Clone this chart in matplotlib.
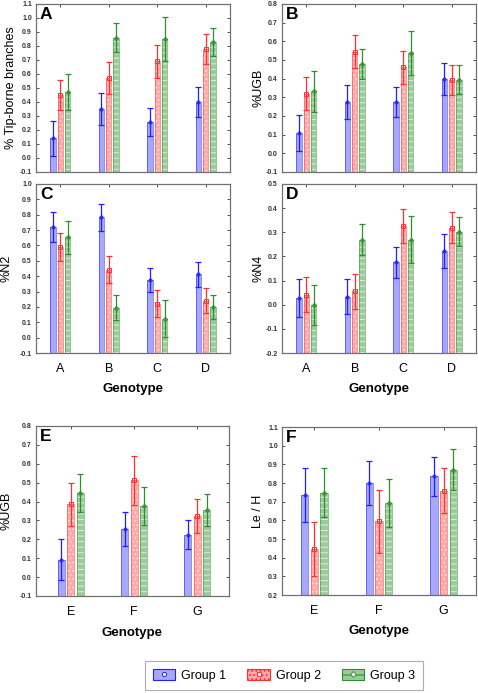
import matplotlib
matplotlib.use("Agg")
import matplotlib.pyplot as plt
import numpy as np
from matplotlib.patches import Patch
from matplotlib.lines import Line2D

plt.rcParams['font.family'] = ['Liberation Sans', 'DejaVu Sans']
plt.rcParams['hatch.linewidth'] = 0.8

# ---------------- data ----------------
genotypes_ad = ['A', 'B', 'C', 'D']
genotypes_eg = ['E', 'F', 'G']
groups = ['Group 1', 'Group 2', 'Group 3']

tip_g1 = [0.14, 0.35, 0.26, 0.40]
tip_g2 = [0.45, 0.57, 0.69, 0.78]
tip_g3 = [0.47, 0.86, 0.85, 0.83]
tip_se1 = [0.125, 0.115, 0.10, 0.105]
tip_se2 = [0.11, 0.115, 0.115, 0.105]
tip_se3 = [0.13, 0.105, 0.155, 0.10]

ugb_ad_g1 = [0.11, 0.275, 0.275, 0.40]
ugb_ad_g2 = [0.32, 0.545, 0.46, 0.393]
ugb_ad_g3 = [0.332, 0.48, 0.538, 0.395]
ugb_ad_se1 = [0.095, 0.09, 0.08, 0.085]
ugb_ad_se2 = [0.09, 0.09, 0.088, 0.08]
ugb_ad_se3 = [0.108, 0.08, 0.118, 0.078]

n2_g1 = [0.72, 0.783, 0.378, 0.411]
n2_g2 = [0.59, 0.443, 0.22, 0.241]
n2_g3 = [0.652, 0.196, 0.124, 0.202]
n2_se1 = [0.097, 0.09, 0.078, 0.084]
n2_se2 = [0.09, 0.088, 0.088, 0.08]
n2_se3 = [0.105, 0.08, 0.12, 0.078]

n4_g1 = [0.028, 0.033, 0.175, 0.222]
n4_g2 = [0.042, 0.056, 0.326, 0.319]
n4_g3 = [-0.001, 0.27, 0.27, 0.303]
n4_se1 = [0.077, 0.072, 0.063, 0.07]
n4_se2 = [0.073, 0.072, 0.072, 0.065]
n4_se3 = [0.084, 0.065, 0.096, 0.061]

ugb_eg_g1 = [0.093, 0.253, 0.225]
ugb_eg_g2 = [0.385, 0.512, 0.322]
ugb_eg_g3 = [0.447, 0.375, 0.357]
ugb_eg_se1 = [0.11, 0.09, 0.078]
ugb_eg_se2 = [0.112, 0.128, 0.09]
ugb_eg_se3 = [0.1, 0.1, 0.084]

leh_g1 = [0.737, 0.80, 0.835]
leh_g2 = [0.445, 0.595, 0.758]
leh_g3 = [0.748, 0.694, 0.872]
leh_se1 = [0.145, 0.118, 0.105]
leh_se2 = [0.145, 0.168, 0.12]
leh_se3 = [0.132, 0.13, 0.11]

# ---------------- style ----------------
edge_cols = ['#2020ff', '#ff3030', '#2a902a']
face_cols = ['#a8a8f8', '#ffa8a8', '#9cca9c']
hatches = [None, '....', '---']
hatch_cols = [None, '#ffdede', '#d4ead4']
markers = ['o', 's', 'D']

W, H = 478, 693
fig = plt.figure(figsize=(W / 100, H / 100), dpi=100)


def add_ax(x0, y0, x1, y1):
    return fig.add_axes([x0 / W, 1 - y1 / H, (x1 - x0) / W, (y1 - y0) / H])


def panel(ax, cats, means, ses, ylim, yticks, ylabel, letter, ylab_px, ax_left,
          show_x, xlim):
    x = np.arange(1, len(cats) + 1)
    offs = [-0.15, 0.0, 0.15]
    bw = 0.11
    base = ylim[0]
    for k in range(3):
        m = np.array(means[k])
        s = np.array(ses[k])
        xs = x + offs[k]
        ax.bar(xs, m - base, bottom=base, width=bw, color=face_cols[k],
               edgecolor=edge_cols[k], linewidth=0.0, zorder=2)
        if hatches[k]:
            ax.bar(xs, m - base, bottom=base, width=bw, facecolor='none',
                   edgecolor=hatch_cols[k], hatch=hatches[k], linewidth=0.0, zorder=3)
        ax.bar(xs, m - base, bottom=base, width=bw, facecolor='none',
               edgecolor=edge_cols[k], linewidth=0.6, alpha=0.6, zorder=4)
        ax.errorbar(xs, m, yerr=s, fmt='none', ecolor=edge_cols[k],
                    elinewidth=0.9, capsize=2.5, capthick=0.9, zorder=5)
        ax.plot(xs, m, linestyle='none', marker=markers[k], markersize=2.2,
                markerfacecolor='none', markeredgecolor=edge_cols[k],
                markeredgewidth=0.7, zorder=6)
    ax.set_xlim(*xlim)
    ax.set_ylim(*ylim)
    ax.set_yticks(yticks)
    ax.set_yticklabels([f"{v:.1f}" for v in yticks], fontsize=5, fontweight='bold')
    ax.set_xticks(x)
    if show_x:
        ax.set_xticklabels(cats, fontsize=9)
        ax.set_xlabel('Genotype', fontsize=9.5, fontweight='bold')
    else:
        ax.set_xticklabels([])
    ax.tick_params(axis='y', direction='in', length=2.5, width=0.6, pad=3,
                   right=True, colors='#333333')
    ax.tick_params(axis='x', direction='in', length=2.5, width=0.6, pad=7,
                   top=True, bottom=False, colors='#333333')
    ax.tick_params(axis='x', labelcolor='black')
    for sp in ax.spines.values():
        sp.set_color('#707070')
        sp.set_linewidth(0.9)
    ax.set_ylabel(ylabel, fontsize=9)
    # anchor of a y label is the right edge of the rotated text
    ax.yaxis.set_label_coords((ylab_px + 6 - ax_left) / (ax.get_position().width * W), 0.5)
    ax.text(0.02, 0.985, letter, transform=ax.transAxes, fontsize=12.5,
            fontweight='bold', va='top', ha='left', zorder=10)


axA = add_ax(36, 4, 230, 172)
axB = add_ax(282, 4, 476, 172)
axC = add_ax(36, 184, 230, 353)
axD = add_ax(282, 184, 476, 353)
axE = add_ax(36, 426, 229, 596)
axF = add_ax(282, 427, 476, 595)

tk = lambda a, b: np.round(np.arange(a, b + 1e-9, 0.1), 1)

panel(axA, genotypes_ad, [tip_g1, tip_g2, tip_g3], [tip_se1, tip_se2, tip_se3],
      (-0.1, 1.1), tk(-0.1, 1.1), '% Tip-borne branches', 'A', 11, 36, False, (0.5, 4.5))
panel(axB, genotypes_ad, [ugb_ad_g1, ugb_ad_g2, ugb_ad_g3],
      [ugb_ad_se1, ugb_ad_se2, ugb_ad_se3],
      (-0.1, 0.8), tk(-0.1, 0.8), '%UGB', 'B', 259, 282, False, (0.5, 4.5))
panel(axC, genotypes_ad, [n2_g1, n2_g2, n2_g3], [n2_se1, n2_se2, n2_se3],
      (-0.1, 1.0), tk(-0.1, 1.0), '%N2', 'C', 7, 36, True, (0.5, 4.5))
panel(axD, genotypes_ad, [n4_g1, n4_g2, n4_g3], [n4_se1, n4_se2, n4_se3],
      (-0.2, 0.5), tk(-0.2, 0.5), '%N4', 'D', 259, 282, True, (0.5, 4.5))
panel(axE, genotypes_eg, [ugb_eg_g1, ugb_eg_g2, ugb_eg_g3],
      [ugb_eg_se1, ugb_eg_se2, ugb_eg_se3],
      (-0.1, 0.8), tk(-0.1, 0.8), '%UGB', 'E', 7, 36, True, (0.45, 3.5))
panel(axF, genotypes_eg, [leh_g1, leh_g2, leh_g3], [leh_se1, leh_se2, leh_se3],
      (0.2, 1.1), tk(0.2, 1.1), 'Le / H', 'F', 258, 282, True, (0.5, 3.5))

for ax in (axC, axD, axE, axF):
    ax.xaxis.set_label_coords(0.5, -0.18)

# legend
handles = []
for k in range(3):
    p = Patch(facecolor=face_cols[k], edgecolor=edge_cols[k], linewidth=0.8,
              hatch=hatches[k] if hatches[k] else None)
    mk = Line2D([], [], linestyle='none', marker=markers[k], markersize=3,
                markerfacecolor='white', markeredgecolor=edge_cols[k], markeredgewidth=0.7)
    handles.append((p, mk))
leg = fig.legend(handles, groups, loc='center', bbox_to_anchor=(284 / W, 1 - 675.5 / H),
                 ncol=3, fontsize=9, frameon=True, fancybox=False, edgecolor='#999999',
                 handlelength=1.8, handleheight=1.0, columnspacing=1.7,
                 borderpad=0.65, handletextpad=0.45)
leg.get_frame().set_linewidth(0.8)

fig.savefig('out.png', dpi=100)
